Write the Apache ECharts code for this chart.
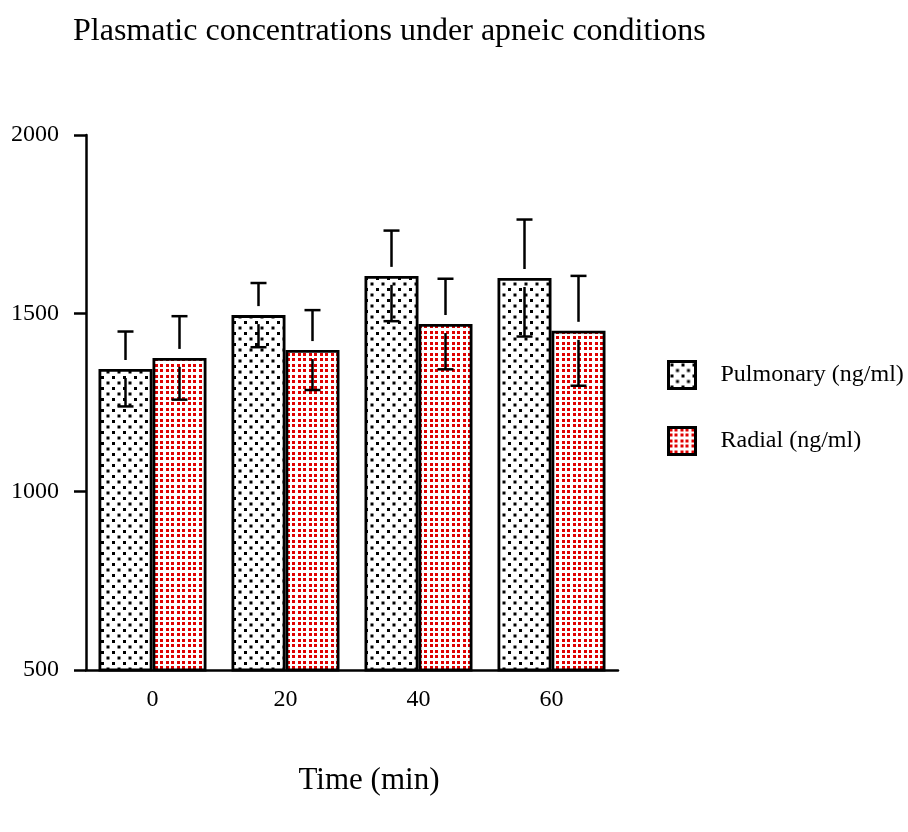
<!DOCTYPE html>
<html>
<head>
<meta charset="utf-8">
<script src="https://cdn.jsdelivr.net/npm/echarts@6/dist/echarts.min.js"></script>
<style>
  html, body { margin: 0; padding: 0; background: #fff; }
  #main { width: 908px; height: 832px; }
</style>
</head>
<body>
<div id="main"></div>
<script>
var times = ['0', '20', '40', '60'];
var pulmonary = [1344, 1495, 1605, 1599];
var pulmonaryErr = [105, 90, 127, 164];
var radial = [1375, 1397, 1470, 1451];
var radialErr = [117, 112, 127, 154];
var yTicks = [500, 1000, 1500, 2000];

var font = 'Liberation Serif, Times New Roman, serif';

// dotted fills like the original
function makeTile(size, dots, color) {
    var c = document.createElement('canvas');
    c.width = size; c.height = size;
    var ctx = c.getContext('2d');
    ctx.fillStyle = '#fff';
    ctx.fillRect(0, 0, size, size);
    ctx.fillStyle = color;
    dots.forEach(function (d) { ctx.fillRect(d[0], d[1], 3, 3); });
    return c;
}
var blackDots = makeTile(11, [[2, 2], [7.5, 7.5]], '#000');
var redDots = makeTile(11, [[1, 1], [6, 1], [1, 6], [6, 6]], '#e00000');

var barW = 54;
var gap = 9;

function errorSeries(values, errs, offset) {
    var data = values.map(function (v, i) { return [i, v, errs[i]]; });
    return {
        type: 'custom',
        silent: true,
        z: 5,
        data: data,
        renderItem: function (params, api) {
            var i = api.value(0), v = api.value(1), e = api.value(2);
            var pm = api.coord([i, v]);
            var x = pm[0] + offset;
            var yTop = api.coord([i, v + e])[1];
            var yBot = api.coord([i, v - e])[1];
            var st = { stroke: '#000', lineWidth: 2.5 };
            return {
                type: 'group',
                children: [
                    { type: 'line', shape: { x1: x, y1: pm[1] - gap, x2: x, y2: yTop }, style: st },
                    { type: 'line', shape: { x1: x - 8, y1: yTop, x2: x + 8, y2: yTop }, style: st },
                    { type: 'line', shape: { x1: x, y1: pm[1] + gap, x2: x, y2: yBot }, style: st },
                    { type: 'line', shape: { x1: x - 8, y1: yBot, x2: x + 8, y2: yBot }, style: st }
                ]
            };
        }
    };
}

var chart = echarts.init(document.getElementById('main'));
var option = {
    backgroundColor: '#fff',
    animation: false,
    title: {
        text: 'Plasmatic concentrations under apneic conditions',
        left: 68,
        top: 11,
        textStyle: { fontFamily: font, fontSize: 32, fontWeight: 'normal', color: '#000' }
    },
    legend: {
        orient: 'vertical',
        left: 662,
        top: 355,
        itemWidth: 27,
        itemHeight: 27,
        itemGap: 36,
        icon: 'rect',
        data: ['Pulmonary (ng/ml)', 'Radial (ng/ml)'],
        itemStyle: { borderColor: '#000', borderWidth: 3 },
        textStyle: { fontFamily: font, fontSize: 24, color: '#000', padding: [0, 0, 0, 20] }
    },
    grid: { left: 86, right: 290, top: 135, bottom: 162 },
    xAxis: {
        type: 'category',
        data: times,
        name: 'Time (min)',
        nameLocation: 'middle',
        nameGap: 95,
        nameTextStyle: { fontFamily: font, fontSize: 31, color: '#000', padding: [0, 0, 0, 34] },
        axisLine: { lineStyle: { color: '#000', width: 2.5 } },
        axisTick: { alignWithLabel: true, length: 12, lineStyle: { color: '#000', width: 2.5 } },
        axisLabel: { fontFamily: font, fontSize: 24, color: '#000', margin: 18 }
    },
    yAxis: {
        type: 'value',
        min: yTicks[0],
        max: yTicks[yTicks.length - 1],
        interval: 500,
        splitLine: { show: false },
        axisLine: { show: true, lineStyle: { color: '#000', width: 2.5 } },
        axisTick: { show: true, length: 12, lineStyle: { color: '#000', width: 2.5 } },
        axisLabel: {
            fontFamily: font, fontSize: 24, color: '#000', margin: 27,
            formatter: function (v) { return String(v); }
        }
    },
    series: [
        {
            name: 'Pulmonary (ng/ml)',
            type: 'bar',
            barWidth: barW,
            barGap: '0%',
            data: pulmonary,
            itemStyle: { color: { image: blackDots, repeat: 'repeat' }, borderColor: '#000', borderWidth: 2.8 }
        },
        {
            name: 'Radial (ng/ml)',
            type: 'bar',
            barWidth: barW,
            barGap: '0%',
            data: radial,
            itemStyle: { color: { image: redDots, repeat: 'repeat' }, borderColor: '#000', borderWidth: 2.8 }
        },
        errorSeries(pulmonary, pulmonaryErr, -barW / 2),
        errorSeries(radial, radialErr, barW / 2)
    ]
};
chart.setOption(option);
</script>
</body>
</html>
